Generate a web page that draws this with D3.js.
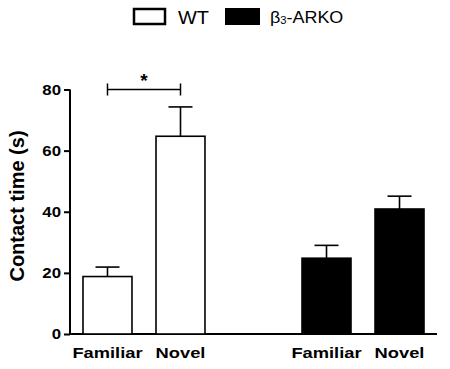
<!DOCTYPE html>
<html>
<head>
<meta charset="utf-8">
<script src="https://cdn.jsdelivr.net/npm/d3@7"></script>
<style>
  body { margin: 0; background: #fff; }
  text { font-family: Arial, "Liberation Sans", sans-serif; }
</style>
</head>
<body>
<div id="grafico"></div>
<script>
// datos
var slots = ["WT-Familiar", "WT-Novel", "gap", "KO-Familiar", "KO-Novel"];
var barras = ["WT-Familiar", "WT-Novel", "KO-Familiar", "KO-Novel"];
var etiquetas = ["Familiar", "Novel", "Familiar", "Novel"];
var medias = [18.8, 64.7, 24.8, 40.9];
var errores = [3.1, 9.6, 4.2, 4.2];
var grupos = ["WT", "WT", "KO", "KO"];
var ticksY = [0, 20, 40, 60, 80];

var ancho = 450, alto = 369;

// estira el texto en horizontal (la figura original esta estirada)
function estirar(sel, k) {
  sel.each(function() {
    var w = this.getComputedTextLength();
    d3.select(this).attr("textLength", w * k).attr("lengthAdjust", "spacingAndGlyphs");
  });
}

var svg = d3.select("#grafico").append("svg")
  .attr("width", ancho)
  .attr("height", alto);

// escalas
var x = d3.scaleBand()
  .domain(slots)
  .range([70, 437])
  .paddingInner(0.329)
  .paddingOuter(0.178);

var y = d3.scaleLinear()
  .domain([0, 80])
  .range([334, 89.5]);

var color = d3.scaleOrdinal().domain(["WT", "KO"]).range(["#fff", "#000"]);

// eje Y
var ejeY = svg.append("g")
  .attr("transform", "translate(70,0)")
  .call(d3.axisLeft(y).tickValues(ticksY).tickSize(6).tickPadding(3).tickFormat(d3.format("d")));
ejeY.select(".domain").attr("stroke-width", 2).attr("d", "M0," + y(80) + "V" + y(0));
ejeY.selectAll(".tick line").attr("stroke-width", 2);
ejeY.selectAll("text")
  .attr("font-size", 15)
  .attr("font-weight", "bold")
  .attr("fill", "#000")
  .call(estirar, 1.12);

// eje X
svg.append("line")
  .attr("x1", 69).attr("x2", 437)
  .attr("y1", y(0)).attr("y2", y(0))
  .attr("stroke", "#000").attr("stroke-width", 2);

// barras
var datos = barras.map(function(b, i) {
  return { id: b, media: medias[i], err: errores[i], grupo: grupos[i], etiqueta: etiquetas[i] };
});

svg.append("g").selectAll("rect")
  .data(datos).enter()
  .append("rect")
  .attr("x", function(d) { return x(d.id); })
  .attr("y", function(d) { return y(d.media); })
  .attr("width", x.bandwidth())
  .attr("height", function(d) { return y(0) - y(d.media); })
  .attr("fill", function(d) { return color(d.grupo); })
  .attr("stroke", "#000")
  .attr("stroke-width", 1.6);

// barras de error
var err = svg.append("g");
datos.forEach(function(d) {
  var cx = x(d.id) + x.bandwidth() / 2;
  err.append("line")
    .attr("x1", cx).attr("x2", cx)
    .attr("y1", y(d.media)).attr("y2", y(d.media + d.err))
    .attr("stroke", "#000").attr("stroke-width", 1.6);
  err.append("line")
    .attr("x1", cx - 12).attr("x2", cx + 12)
    .attr("y1", y(d.media + d.err)).attr("y2", y(d.media + d.err))
    .attr("stroke", "#000").attr("stroke-width", 1.6);
});

// etiquetas del eje x
svg.append("g").selectAll("text")
  .data(datos).enter()
  .append("text")
  .text(function(d) { return d.etiqueta; })
  .attr("x", function(d) { return x(d.id) + x.bandwidth() / 2; })
  .attr("y", 358)
  .attr("text-anchor", "middle")
  .attr("font-size", 15)
  .attr("font-weight", "bold")
  .call(estirar, 1.22);

// titulo eje Y
svg.append("text")
  .text("Contact time (s)")
  .attr("transform", "translate(24,206) rotate(-90)")
  .attr("text-anchor", "middle")
  .attr("font-size", 20)
  .attr("font-weight", "bold");

// significancia
var x1 = x("WT-Familiar") + x.bandwidth() / 2;
var x2 = x("WT-Novel") + x.bandwidth() / 2;
var yb = y(80);
var sig = svg.append("g").attr("stroke", "#000").attr("stroke-width", 1.5);
sig.append("line").attr("x1", x1).attr("x2", x2).attr("y1", yb).attr("y2", yb);
sig.append("line").attr("x1", x1).attr("x2", x1).attr("y1", yb - 6).attr("y2", yb + 6);
sig.append("line").attr("x1", x2).attr("x2", x2).attr("y1", yb - 6).attr("y2", yb + 6);
svg.append("text")
  .text("*")
  .attr("x", (x1 + x2) / 2)
  .attr("y", 87)
  .attr("text-anchor", "middle")
  .attr("font-size", 19)
  .attr("font-weight", "bold");

// leyenda
var leyenda = svg.append("g");
leyenda.append("rect")
  .attr("x", 134).attr("y", 9).attr("width", 31).attr("height", 15)
  .attr("fill", "#fff").attr("stroke", "#000").attr("stroke-width", 2.5);
leyenda.append("text")
  .text("WT")
  .attr("x", 178).attr("y", 24)
  .attr("font-size", 19)
  .call(estirar, 1.05);
leyenda.append("rect")
  .attr("x", 225).attr("y", 8).attr("width", 35).attr("height", 17)
  .attr("fill", "#000");
var t = leyenda.append("text")
  .attr("x", 270).attr("y", 23)
  .attr("font-size", 16);
t.append("tspan").text("\u03B2");
t.append("tspan").text("3").attr("font-size", 10).attr("dy", 1);
t.append("tspan").text("-ARKO").attr("dy", -1);
t.call(estirar, 1.12);
</script>
</body>
</html>
